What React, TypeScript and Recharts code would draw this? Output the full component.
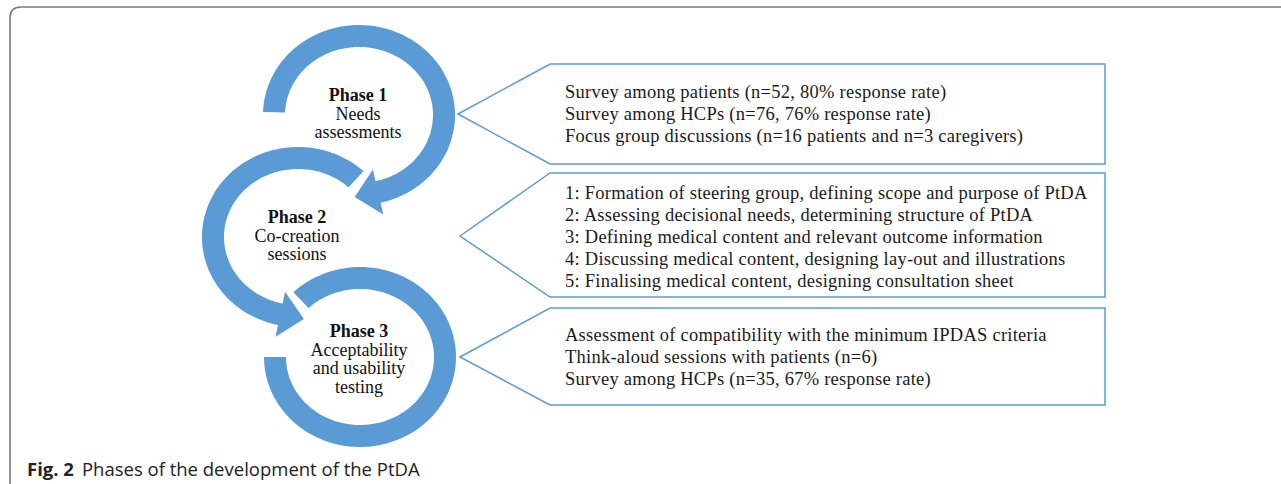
import React from 'react';
import { ScatterChart, Scatter, XAxis, YAxis, Customized } from 'recharts';

/* ------------------------------------------------------------------ */
/*  Content                                                            */
/* ------------------------------------------------------------------ */

const phaseTitles = ['Phase 1', 'Phase 2', 'Phase 3'];

const phaseSubtitles = [
  ['Needs', 'assessments'],
  ['Co-creation', 'sessions'],
  ['Acceptability', 'and usability', 'testing'],
];

const needsActivities = [
  'Survey among patients (n=52, 80% response rate)',
  'Survey among HCPs (n=76, 76% response rate)',
  'Focus group discussions (n=16 patients and n=3 caregivers)',
];

const coCreationActivities = [
  '1: Formation of steering group, defining scope and purpose of PtDA',
  '2: Assessing decisional needs, determining structure of PtDA',
  '3: Defining medical content and relevant outcome information',
  '4: Discussing medical content, designing lay-out and illustrations',
  '5: Finalising medical content, designing consultation sheet',
];

const testingActivities = [
  'Assessment of compatibility with the minimum IPDAS criteria',
  'Think-aloud sessions with patients (n=6)',
  'Survey among HCPs (n=35, 67% response rate)',
];

const captionLabel = 'Fig. 2';
const captionText = 'Phases of the development of the PtDA';

/* ------------------------------------------------------------------ */
/*  Layout (canvas units = pixels, 1281 x 484)                          */
/* ------------------------------------------------------------------ */

const W = 1281;
const H = 484;
const BLUE = '#5b9bd5';
const SERIF = '"Liberation Serif", "Times New Roman", serif';
const SANS = '"Open Sans", "Noto Sans", sans-serif';

// ring centre, arc start/end in degrees (counter-clockwise from 3 o'clock)
const ringLayout = [
  { x: 359, y: 115, from: 178, to: -77, arrow: true, tx: -1, ty: -14 },
  { x: 298, y: 237, from: 47, to: 258, arrow: true, tx: -1, ty: -14 },
  { x: 360, y: 357, from: 134, to: -180, arrow: false, tx: -1, ty: -20 },
];

// callout tip, box top/bottom relative to the tip, shift of the text block
const boxLayout = [
  { x: 458, y: 114, up: 50, down: 50, shift: 0 },
  { x: 460, y: 236, up: 63, down: 61, shift: 2 },
  { x: 460, y: 357, up: 49, down: 48, shift: 0 },
];

const BOX_CORNER = 550;
const BOX_RIGHT = 1105;

const phaseData = phaseTitles.map((title, i) => ({
  ...ringLayout[i],
  title,
  lines: phaseSubtitles[i],
}));

const boxData = [needsActivities, coCreationActivities, testingActivities].map((lines, i) => ({
  ...boxLayout[i],
  lines,
}));

/* ------------------------------------------------------------------ */
/*  Shapes                                                              */
/* ------------------------------------------------------------------ */

function ringPath(cx: number, cy: number, from: number, to: number, arrow: boolean) {
  const RX = 96;
  const RY = 90;
  const BAND = 22;
  const FLANGE = 12;
  const HEAD = 24;
  const pt = (t: number, dr: number) => {
    const a = (t * Math.PI) / 180;
    return [cx + (RX - dr) * Math.cos(a), cy - (RY - dr) * Math.sin(a)];
  };
  const n = 120;
  const outer: number[][] = [];
  const inner: number[][] = [];
  for (let i = 0; i <= n; i++) {
    const t = from + ((to - from) * i) / n;
    outer.push(pt(t, 0));
    inner.push(pt(t, BAND));
  }
  const pts = [...outer];
  if (arrow) {
    const a = (to * Math.PI) / 180;
    const dir = Math.sign(to - from);
    let tx = -(RX - BAND / 2) * Math.sin(a) * dir;
    let ty = -(RY - BAND / 2) * Math.cos(a) * dir;
    const len = Math.hypot(tx, ty);
    tx /= len;
    ty /= len;
    const mid = pt(to, BAND / 2);
    pts.push(pt(to, -FLANGE), [mid[0] + tx * HEAD, mid[1] + ty * HEAD], pt(to, BAND + FLANGE));
  }
  pts.push(...inner.reverse());
  return 'M' + pts.map((p) => p[0].toFixed(1) + ',' + p[1].toFixed(1)).join('L') + 'Z';
}

function PhaseRing(props: any) {
  const { cx, cy, payload } = props;
  const lx = cx + payload.tx;
  const ly = cy + payload.ty;
  return (
    <g>
      <path d={ringPath(cx, cy, payload.from, payload.to, payload.arrow)} fill={BLUE} />
      <text x={lx} y={ly} textAnchor="middle" fontFamily={SERIF} fontSize={18} fontWeight="bold" fill="#111">
        {payload.title}
      </text>
      {payload.lines.map((line: string, i: number) => (
        <text key={line} x={lx} y={ly + 18.5 * (i + 1)} textAnchor="middle" fontFamily={SERIF} fontSize={18} fill="#111">
          {line}
        </text>
      ))}
    </g>
  );
}

function Callout(props: any) {
  const { cx, cy, payload } = props;
  const left = cx + (BOX_CORNER - payload.x);
  const right = cx + (BOX_RIGHT - payload.x);
  const top = cy - payload.up;
  const bottom = cy + payload.down;
  const step = 22;
  const first = (top + bottom) / 2 - (step * (payload.lines.length - 1)) / 2 + 6 + payload.shift;
  return (
    <g>
      <polygon
        points={`${cx},${cy} ${left},${top} ${right},${top} ${right},${bottom} ${left},${bottom}`}
        fill="#fff"
        stroke={BLUE}
        strokeWidth={1.5}
      />
      {payload.lines.map((line: string, i: number) => (
        <text
          key={line}
          x={left + 15}
          y={first + step * i}
          fontFamily={SERIF}
          fontSize={18.5}
          letterSpacing={0.25}
          fill="#1a1a1a"
        >
          {line}
        </text>
      ))}
    </g>
  );
}

function Frame() {
  return (
    <g>
      <path d={`M10,${H} L10,18 Q10,7 21,7 L${W},7`} fill="none" stroke="#7a7a7a" strokeWidth={1.6} />
      <text x={27} y={476} fontFamily={SANS} fontSize={18.5} fill="#222">
        <tspan fontWeight="bold">{captionLabel}</tspan>
        <tspan dx={8}>{captionText}</tspan>
      </text>
    </g>
  );
}

export default function App() {
  return (
    <div style={{ position: 'absolute', left: 0, top: 0, width: W, height: H, background: '#fff' }}>
      <ScatterChart width={W} height={H} margin={{ top: 0, right: 0, bottom: 0, left: 0 }}>
        <XAxis type="number" dataKey="x" domain={[0, W]} hide />
        <YAxis type="number" dataKey="y" domain={[0, H]} reversed hide />
        <Customized component={<Frame />} />
        <Scatter data={boxData} shape={<Callout />} isAnimationActive={false} />
        <Scatter data={phaseData} shape={<PhaseRing />} isAnimationActive={false} />
      </ScatterChart>
    </div>
  );
}
